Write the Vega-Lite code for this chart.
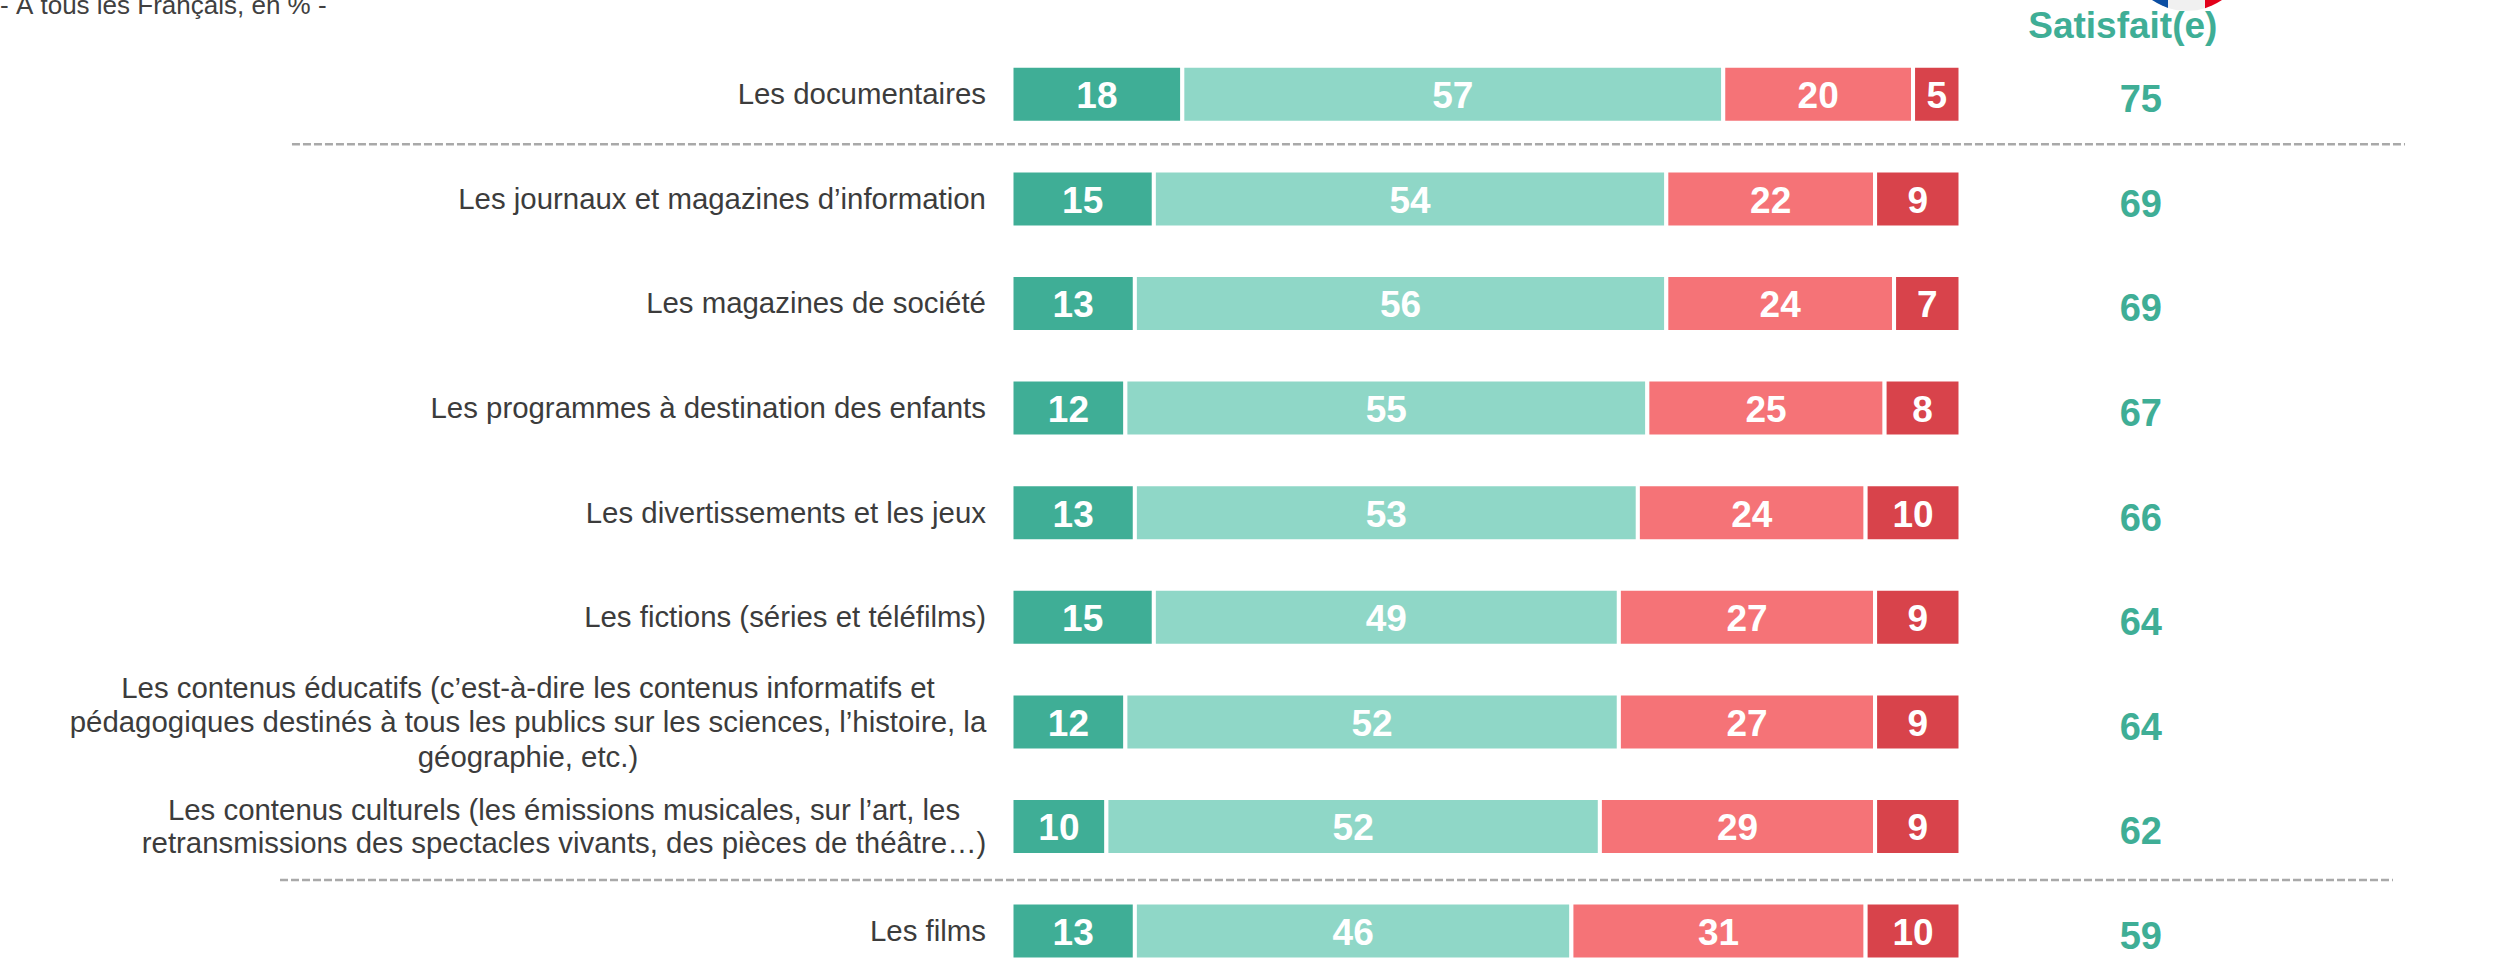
{
"$schema":"https://vega.github.io/schema/vega-lite/v6.json",
"width":2509,"height":966,"padding":0,"autosize":{"type":"none"},
"background":"white",
"view":{"stroke":null},
"config":{"font":"Liberation Sans"},
"datasets":{
"barres":[
{"rang":1,"o":1,"cat":"Très satisfait","v":18},{"rang":1,"o":2,"cat":"Plutôt satisfait","v":57},{"rang":1,"o":3,"cat":"Plutôt pas satisfait","v":20},{"rang":1,"o":4,"cat":"Pas du tout satisfait","v":5},
{"rang":2,"o":1,"cat":"Très satisfait","v":15},{"rang":2,"o":2,"cat":"Plutôt satisfait","v":54},{"rang":2,"o":3,"cat":"Plutôt pas satisfait","v":22},{"rang":2,"o":4,"cat":"Pas du tout satisfait","v":9},
{"rang":3,"o":1,"cat":"Très satisfait","v":13},{"rang":3,"o":2,"cat":"Plutôt satisfait","v":56},{"rang":3,"o":3,"cat":"Plutôt pas satisfait","v":24},{"rang":3,"o":4,"cat":"Pas du tout satisfait","v":7},
{"rang":4,"o":1,"cat":"Très satisfait","v":12},{"rang":4,"o":2,"cat":"Plutôt satisfait","v":55},{"rang":4,"o":3,"cat":"Plutôt pas satisfait","v":25},{"rang":4,"o":4,"cat":"Pas du tout satisfait","v":8},
{"rang":5,"o":1,"cat":"Très satisfait","v":13},{"rang":5,"o":2,"cat":"Plutôt satisfait","v":53},{"rang":5,"o":3,"cat":"Plutôt pas satisfait","v":24},{"rang":5,"o":4,"cat":"Pas du tout satisfait","v":10},
{"rang":6,"o":1,"cat":"Très satisfait","v":15},{"rang":6,"o":2,"cat":"Plutôt satisfait","v":49},{"rang":6,"o":3,"cat":"Plutôt pas satisfait","v":27},{"rang":6,"o":4,"cat":"Pas du tout satisfait","v":9},
{"rang":7,"o":1,"cat":"Très satisfait","v":12},{"rang":7,"o":2,"cat":"Plutôt satisfait","v":52},{"rang":7,"o":3,"cat":"Plutôt pas satisfait","v":27},{"rang":7,"o":4,"cat":"Pas du tout satisfait","v":9},
{"rang":8,"o":1,"cat":"Très satisfait","v":10},{"rang":8,"o":2,"cat":"Plutôt satisfait","v":52},{"rang":8,"o":3,"cat":"Plutôt pas satisfait","v":29},{"rang":8,"o":4,"cat":"Pas du tout satisfait","v":9},
{"rang":9,"o":1,"cat":"Très satisfait","v":13},{"rang":9,"o":2,"cat":"Plutôt satisfait","v":46},{"rang":9,"o":3,"cat":"Plutôt pas satisfait","v":31},{"rang":9,"o":4,"cat":"Pas du tout satisfait","v":10}
],
"genres":[
{"rang":1,"label":"Les documentaires","satisfait":75,"lignes":1},
{"rang":2,"label":"Les journaux et magazines d’information","satisfait":69,"lignes":1},
{"rang":3,"label":"Les magazines de société","satisfait":69,"lignes":1},
{"rang":4,"label":"Les programmes à destination des enfants","satisfait":67,"lignes":1},
{"rang":5,"label":"Les divertissements et les jeux","satisfait":66,"lignes":1},
{"rang":6,"label":"Les fictions (séries et téléfilms)","satisfait":64,"lignes":1},
{"rang":7,"label":"Les contenus éducatifs (c’est-à-dire les contenus informatifs et\npédagogiques destinés à tous les publics sur les sciences, l’histoire, la\ngéographie, etc.)","satisfait":64,"lignes":3},
{"rang":8,"label":"Les contenus culturels (les émissions musicales, sur l’art, les\nretransmissions des spectacles vivants, des pièces de théâtre…)","satisfait":62,"lignes":2},
{"rang":9,"label":"Les films","satisfait":59,"lignes":1}
],
"un":[{}]
},
"encoding":{},
"layer":[
{"data":{"name":"barres"},
 "transform":[{"stack":"v","groupby":["rang"],"sort":[{"field":"o","order":"ascending"}],"as":["debut","fin"]}],
 "mark":{"type":"bar","orientation":"horizontal","size":57,"stroke":"white","strokeWidth":4},
 "encoding":{
  "y":{"field":"rang","type":"quantitative","scale":{"domain":[9.3337,0.0985],"nice":false,"zero":false,"padding":0},"axis":null},
  "x":{"field":"debut","type":"quantitative","scale":{"domain":[-106.585,157.797],"nice":false,"zero":false,"padding":0},"axis":null},
  "x2":{"field":"fin"},
  "color":{"field":"cat","type":"nominal","legend":null,"scale":{"domain":["Très satisfait","Plutôt satisfait","Plutôt pas satisfait","Pas du tout satisfait"],"range":["#3FAE96","#8FD7C7","#F57377","#D8434B"]}}
 }},
{"data":{"name":"barres"},
 "transform":[{"stack":"v","groupby":["rang"],"sort":[{"field":"o","order":"ascending"}],"as":["debut","fin"]},{"calculate":"(datum.debut+datum.fin)/2","as":"milieu"}],
 "mark":{"type":"text","color":"white","fontWeight":"bold","fontSize":37,"align":"center","baseline":"middle","dy":3,"font":"Liberation Sans"},
 "encoding":{
  "y":{"field":"rang","type":"quantitative"},
  "x":{"field":"milieu","type":"quantitative"},
  "text":{"field":"v","type":"quantitative"}
 }},
{"data":{"name":"un"},"mark":{"type":"rule","color":"#A9A9A9","strokeWidth":2.5,"strokeDash":[8,3]},
 "encoding":{"y":{"datum":1.478},"x":{"datum":-75.82},"x2":{"datum":146.84}}},
{"data":{"name":"un"},"mark":{"type":"rule","color":"#A9A9A9","strokeWidth":2.5,"strokeDash":[8,3]},
 "encoding":{"y":{"datum":8.512},"x":{"datum":-77.08},"x2":{"datum":145.57}}},
{"data":{"name":"genres"},"transform":[{"filter":"datum.lignes==1"}],
 "mark":{"type":"text","fontSize":29.4,"align":"right","baseline":"middle","dy":1,"color":"#3C3C3C","font":"Liberation Sans"},
 "encoding":{"y":{"field":"rang","type":"quantitative"},"x":{"datum":-2.69},"text":{"field":"label"}}},
{"data":{"name":"genres"},"transform":[{"filter":"datum.rang==7"}],
 "mark":{"type":"text","fontSize":29.4,"align":"center","baseline":"middle","dy":-33,"lineBreak":"\n","lineHeight":34.5,"color":"#3C3C3C","font":"Liberation Sans"},
 "encoding":{"y":{"field":"rang","type":"quantitative"},"x":{"datum":-50.95},"text":{"field":"label"}}},
{"data":{"name":"genres"},"transform":[{"filter":"datum.rang==8"}],
 "mark":{"type":"text","fontSize":29.4,"align":"center","baseline":"middle","dy":-15.5,"lineBreak":"\n","lineHeight":33,"color":"#3C3C3C","font":"Liberation Sans"},
 "encoding":{"y":{"field":"rang","type":"quantitative"},"x":{"datum":-47.15},"text":{"field":"label"}}},
{"data":{"name":"genres"},
 "mark":{"type":"text","fontSize":38,"fontWeight":"bold","align":"center","baseline":"middle","dy":7,"color":"#3FAE96","font":"Liberation Sans"},
 "encoding":{"y":{"field":"rang","type":"quantitative"},"x":{"datum":119.0},"text":{"field":"satisfait","type":"quantitative"}}},
{"data":{"name":"un"},"mark":{"type":"text","fontSize":37,"fontWeight":"bold","align":"center","baseline":"middle","color":"#3FAE96","font":"Liberation Sans"},
 "encoding":{"y":{"datum":0.357},"x":{"datum":117.1},"text":{"value":"Satisfait(e)"}}},
{"data":{"name":"un"},"mark":{"type":"text","fontSize":26,"align":"left","baseline":"middle","color":"#404040","font":"Liberation Sans"},
 "encoding":{"y":{"datum":0.155},"x":{"datum":-106.585},"text":{"value":"- À tous les Français, en % -"}}},
{"data":{"name":"un"},"mark":{"type":"point","filled":true,"opacity":1,"color":"#F0F0F0","size":40000,"shape":"M-0.19,0L-0.19,0.08L-0.10,0.102L0,0.11L0.10,0.102L0.18,0.083L0.18,0Z"},
 "encoding":{"y":{"datum":0.0985},"x":{"datum":123.87}}},
{"data":{"name":"un"},"mark":{"type":"point","filled":true,"opacity":1,"color":"#0B4EA2","size":40000,"shape":"M-0.35,0L-0.30,0.031L-0.25,0.056L-0.19,0.08L-0.19,0Z"},
 "encoding":{"y":{"datum":0.0985},"x":{"datum":123.87}}},
{"data":{"name":"un"},"mark":{"type":"point","filled":true,"opacity":1,"color":"#E2001A","size":40000,"shape":"M0.18,0L0.18,0.083L0.25,0.056L0.30,0.031L0.35,0Z"},
 "encoding":{"y":{"datum":0.0985},"x":{"datum":123.87}}}
]
}
